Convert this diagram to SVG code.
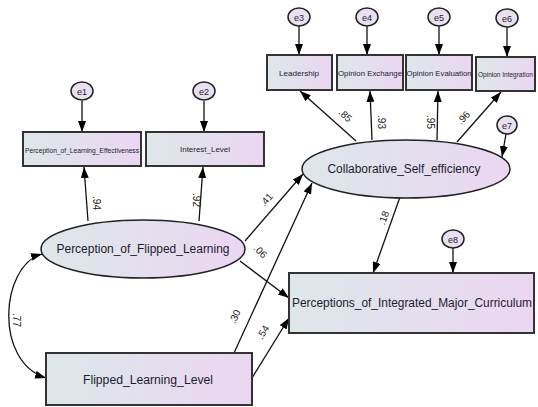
<svg xmlns="http://www.w3.org/2000/svg" width="538" height="407" viewBox="0 0 538 407">
<defs>
<linearGradient id="g" x1="0" y1="0" x2="1" y2="0">
<stop offset="0" stop-color="#dde7e9"/>
<stop offset="1" stop-color="#ebd6f2"/>
</linearGradient>
<marker id="ah" markerUnits="userSpaceOnUse" markerWidth="12" markerHeight="8" refX="11" refY="4" orient="auto-start-reverse">
<path d="M0,0 L11,4 L0,8 Z" fill="#000"/>
</marker>
<style>
.box{fill:url(#g);stroke:#333;stroke-width:2}
.ell{fill:url(#g);stroke:#222;stroke-width:1.5}
.err{fill:#ebe0f0;stroke:#222;stroke-width:1.5}
.t{font-family:"Liberation Sans",Arial,sans-serif;fill:#1c1c30;text-anchor:middle}
.lbl{font-family:"Liberation Sans",Arial,sans-serif;fill:#222;font-size:10px;text-anchor:middle}
.c{stroke:#111;stroke-width:1.3;fill:none;marker-end:url(#ah)}
</style>
</defs>
<g id="connectors">
<path class="c" d="M82,101 L82,132"/>
<path class="c" d="M204,101 L204,132"/>
<path class="c" d="M299,26 L299,55"/>
<path class="c" d="M367,26 L367,55"/>
<path class="c" d="M439,26 L439,55"/>
<path class="c" d="M507,27 L507,57"/>
<path class="c" d="M88,221 L84,167"/>
<path class="c" d="M199,221 L203,167"/>
<path class="c" d="M356,141 L300,91"/>
<path class="c" d="M372,140 L370,91"/>
<path class="c" d="M437,140 L438,91"/>
<path class="c" d="M457,142 L501,92"/>
<path class="c" d="M506,134 L502,157"/>
<path class="c" d="M245,241 L303,174"/>
<path class="c" d="M234,353 L312,183"/>
<path class="c" d="M240,261 L289,298"/>
<path class="c" d="M252,378 L289,318"/>
<path class="c" d="M400,197 L373,273"/>
<path class="c" d="M453,248 L453,273"/>
<path class="c" d="M42,254 C0,266 -6,362 46,378" style="marker-start:url(#ah)"/>
</g>
<g id="labels">
<text class="lbl" transform="translate(93,203) rotate(90)">.94</text>
<text class="lbl" transform="translate(193,200) rotate(90)">.92</text>
<text class="lbl" transform="translate(269,202) rotate(-50)">.41</text>
<text class="lbl" transform="translate(258,254) rotate(45)">.06</text>
<text class="lbl" transform="translate(238,318) rotate(-65)">.30</text>
<text class="lbl" transform="translate(266,334) rotate(-58)">.54</text>
<text class="lbl" transform="translate(387,219) rotate(-70)">.18</text>
<text class="lbl" transform="translate(343,118) rotate(42)">.85</text>
<text class="lbl" transform="translate(378,122) rotate(90)">.93</text>
<text class="lbl" transform="translate(427,122) rotate(90)">.95</text>
<text class="lbl" transform="translate(466,120) rotate(-48)">.96</text>
<text class="lbl" transform="translate(13,320) rotate(90)">.77</text>
</g>
<g id="e1"><ellipse class="err" cx="82" cy="91" rx="11" ry="9"/><text class="t" x="82" y="94.5" font-size="9">e1</text></g>
<g id="e2"><ellipse class="err" cx="204" cy="91" rx="11" ry="9"/><text class="t" x="204" y="94.5" font-size="9">e2</text></g>
<g id="e3"><ellipse class="err" cx="299" cy="17" rx="11" ry="9"/><text class="t" x="299" y="20.5" font-size="9">e3</text></g>
<g id="e4"><ellipse class="err" cx="367" cy="17" rx="11" ry="9"/><text class="t" x="367" y="20.5" font-size="9">e4</text></g>
<g id="e5"><ellipse class="err" cx="439" cy="17" rx="11" ry="9"/><text class="t" x="439" y="20.5" font-size="9">e5</text></g>
<g id="e6"><ellipse class="err" cx="507" cy="18" rx="11" ry="9"/><text class="t" x="507" y="21.5" font-size="9">e6</text></g>
<g id="e7"><ellipse class="err" cx="507" cy="125" rx="10" ry="9"/><text class="t" x="507" y="128.5" font-size="9">e7</text></g>
<g id="e8"><ellipse class="err" cx="453" cy="239" rx="11" ry="9"/><text class="t" x="453" y="242.5" font-size="9">e8</text></g>
<g id="PLE"><rect class="box" x="23" y="132" width="118" height="34"/><text class="t" x="82" y="153" font-size="7" textLength="114" lengthAdjust="spacingAndGlyphs">Perception_of_Learning_Effectiveness</text></g>
<g id="IL"><rect class="box" x="146" y="132" width="118" height="34"/><text class="t" x="205" y="152" font-size="8" textLength="50" lengthAdjust="spacingAndGlyphs">Interest_Level</text></g>
<g id="LD"><rect class="box" x="267" y="55" width="65" height="35"/><text class="t" x="299" y="76" font-size="8" textLength="40" lengthAdjust="spacingAndGlyphs">Leadership</text></g>
<g id="OE"><rect class="box" x="337" y="55" width="66" height="35"/><text class="t" x="370" y="76" font-size="8" textLength="64" lengthAdjust="spacingAndGlyphs">Opinion Exchange</text></g>
<g id="OV"><rect class="box" x="406" y="55" width="66" height="35"/><text class="t" x="439" y="76" font-size="8" textLength="65" lengthAdjust="spacingAndGlyphs">Opinion Evaluation</text></g>
<g id="OI"><rect class="box" x="476" y="57" width="59" height="34"/><text class="t" x="505.5" y="77" font-size="6.5">Opinion Integration</text></g>
<g id="CSE"><ellipse class="ell" cx="406" cy="169" rx="104" ry="29"/><text class="t" x="404" y="173" font-size="12" textLength="153" lengthAdjust="spacingAndGlyphs">Collaborative_Self_efficiency</text></g>
<g id="PFL"><ellipse class="ell" cx="143" cy="249" rx="102" ry="29"/><text class="t" x="143" y="253" font-size="12" textLength="173" lengthAdjust="spacingAndGlyphs">Perception_of_Flipped_Learning</text></g>
<g id="PIMC"><rect class="box" x="289" y="273" width="245" height="60"/><text class="t" x="412" y="307" font-size="12" textLength="240" lengthAdjust="spacingAndGlyphs">Perceptions_of_Integrated_Major_Curriculum</text></g>
<g id="FLL"><rect class="box" x="46" y="353" width="206" height="52"/><text class="t" x="148" y="384" font-size="12" textLength="130" lengthAdjust="spacingAndGlyphs">Flipped_Learning_Level</text></g>
</svg>
